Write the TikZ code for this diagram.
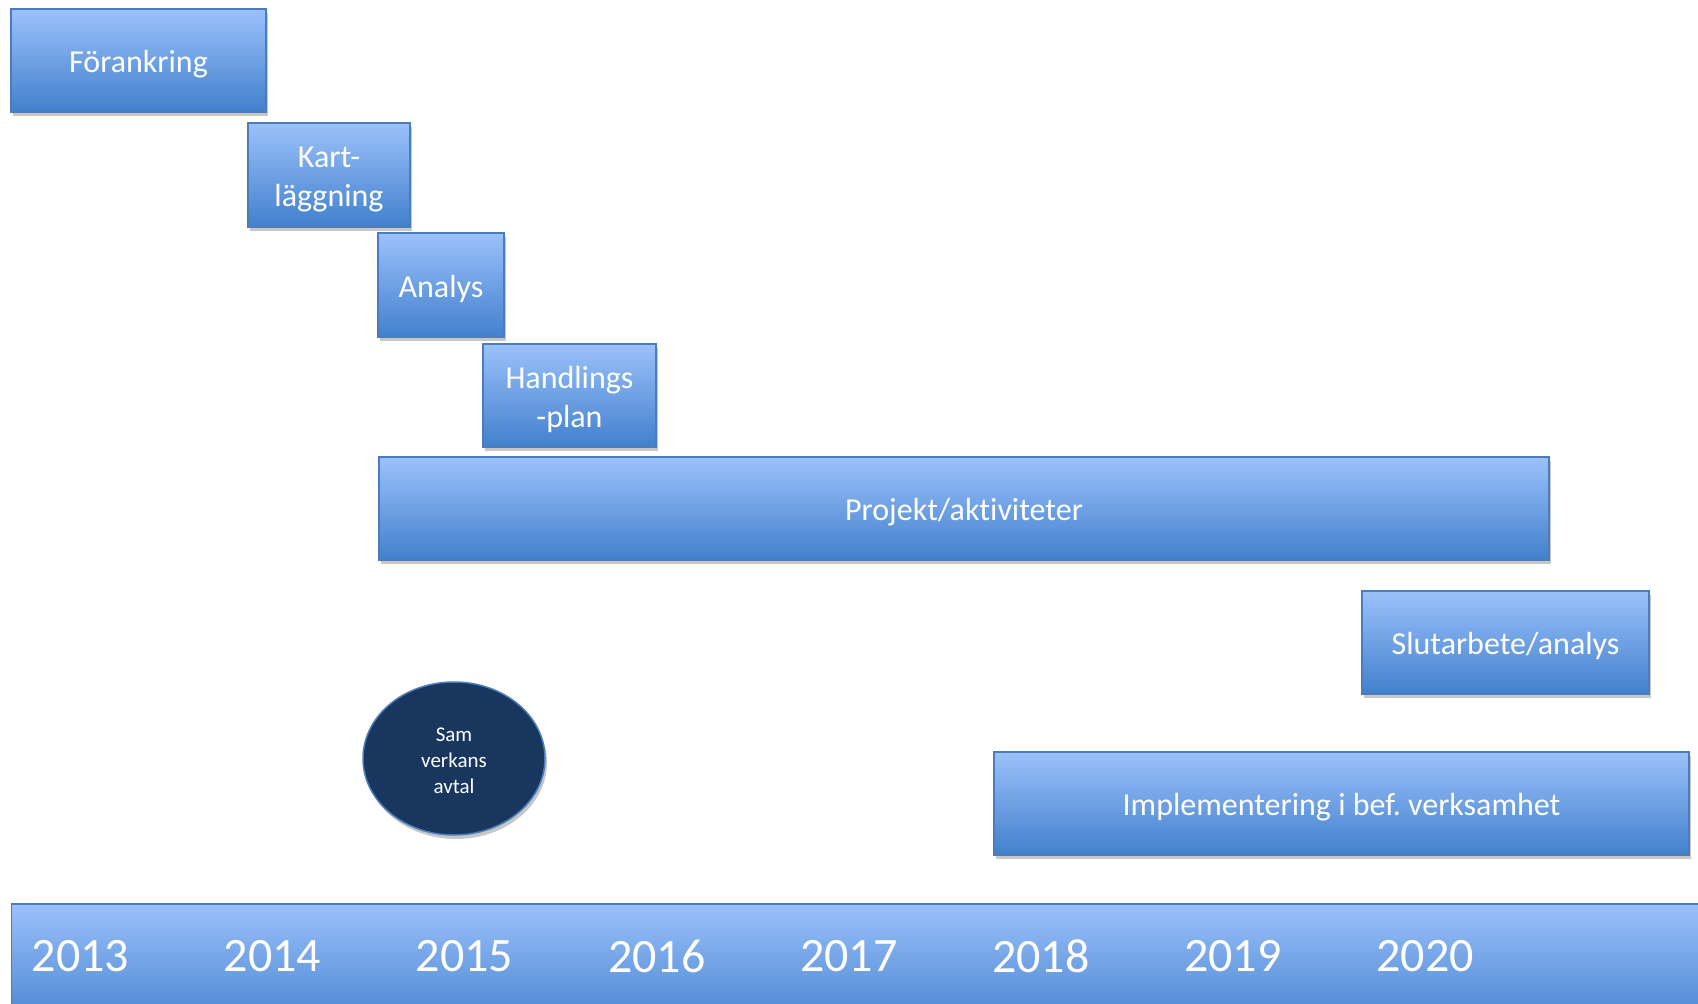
\documentclass[tikz,border=0pt]{standalone}
\usepackage{fontspec}
\setmainfont{Carlito}[Ligatures=NoCommon]
\frenchspacing
\usetikzlibrary{shadows,shapes.geometric}
\definecolor{bxtop}{RGB}{155,193,251}
\definecolor{bxbot}{RGB}{66,128,205}
\definecolor{bxline}{RGB}{74,126,187}
\definecolor{navy}{RGB}{24,54,94}
\newcommand\liftline[1]{\rule{0pt}{#1}}
\tikzset{
  phase/.style={rectangle, draw=bxline, line width=1.5pt, top color=bxtop, bottom color=bxbot,
    text=white, align=center, inner sep=0pt, font=\fontsize{32}{39}\selectfont,
    drop shadow={shadow xshift=2pt, shadow yshift=-4pt, opacity=0.22, fill=black}},
  agreement/.style={ellipse, draw=bxline, line width=1.5pt, fill=navy, text=white, align=center,
    inner sep=0pt, font=\fontsize{21}{26}\selectfont,
    drop shadow={shadow xshift=2pt, shadow yshift=-4pt, opacity=0.22, fill=black}},
  year/.style={anchor=west, text=white, inner sep=0pt, font=\fontsize{48}{52}\selectfont}
}
\begin{document}
\begin{tikzpicture}[x=1pt, y=-1pt]
\useasboundingbox (0,0) rectangle (1698,1004);
\clip (0,0) rectangle (1698,1004);
\fill[white] (0,0) rectangle (1698,1004);
\node[phase, minimum width=255pt, minimum height=103pt] (forank) at (138.5,60.5) {\liftline{0.93em}Förankring};
\node[phase, minimum width=162pt, minimum height=104pt] (kart) at (329,175) {\liftline{0.93em}Kart-\\läggning};
\node[phase, minimum width=126pt, minimum height=104pt] (analys) at (441,285) {\liftline{0.93em}Analys};
\node[phase, minimum width=173pt, minimum height=103pt] (handl) at (569.5,395.5) {\liftline{0.93em}Handlings\\-plan};
\node[phase, minimum width=1170pt, minimum height=103pt] (projekt) at (964,508.5) {\liftline{0.93em}Projekt/aktiviteter};
\node[phase, minimum width=287pt, minimum height=103pt] (slut) at (1505.5,642.5) {\liftline{0.93em}Slutarbete/analys};
\node[phase, minimum width=695pt, minimum height=103pt] (impl) at (1341.5,803.5) {\liftline{0.93em}Implementering i bef. verksamhet};
\node[agreement, minimum width=182pt, minimum height=153pt] (samv) at (454,758.5) {\liftline{0.87em}Sam\\verkans\\avtal};
\node[phase, minimum width=1710pt, minimum height=130pt, anchor=north west] (axis) at (10.5,903) {};
\foreach \y [count=\i from 0] in {2013,2014,2015,2016,2017,2018,2019,2020}
  \node[year] (y\y) at (31.5+192.1*\i, 956) {\y};
\end{tikzpicture}
\end{document}
